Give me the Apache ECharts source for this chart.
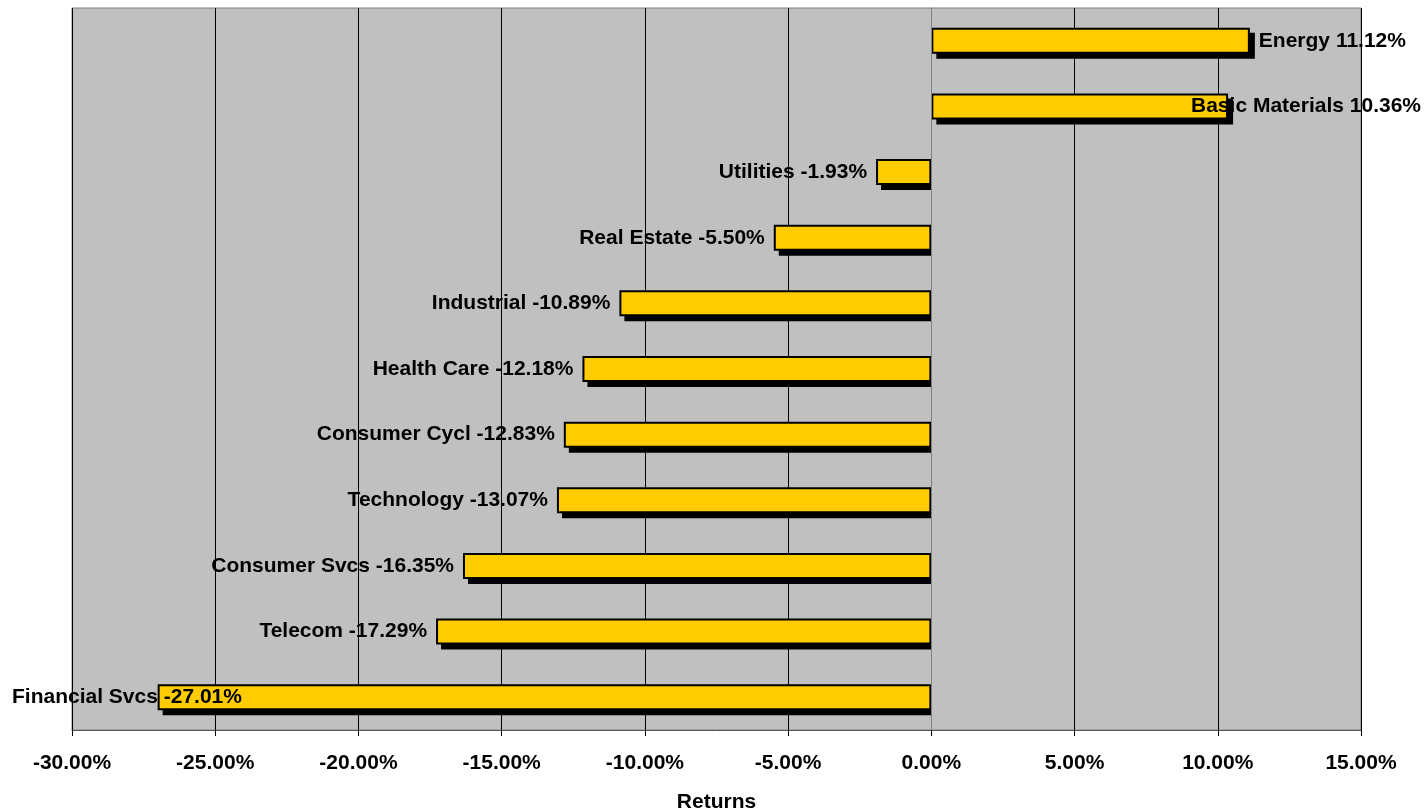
<!DOCTYPE html>
<html>
<head>
<meta charset="utf-8">
<script src="https://cdn.jsdelivr.net/npm/echarts@6/dist/echarts.min.js"></script>
<style>
  html, body { margin: 0; padding: 0; background: #ffffff; }
  #chart { width: 1427px; height: 810px; }
</style>
</head>
<body>
<div id="chart"></div>
<script>
// Sector returns, top to bottom
const sectors = ['Energy', 'Basic Materials', 'Utilities', 'Real Estate', 'Industrial',
  'Health Care', 'Consumer Cycl', 'Technology', 'Consumer Svcs', 'Telecom', 'Financial Svcs'];
const returns = [11.12, 10.36, -1.93, -5.50, -10.89, -12.18, -12.83, -13.07, -16.35, -17.29, -27.01];
const axisMin = -30, axisMax = 15, axisStep = 5;
const axisTitle = 'Returns';

const FONT = '"Liberation Sans", Arial, sans-serif';
const W = 1427;
const BAR_H = 26;
const SHADOW = 5;

const chart = echarts.init(document.getElementById('chart'), null, { renderer: 'canvas' });

// drop shadow behind each bar, offset down and to the right
function renderShadow(params, api) {
  const idx = api.value(0);
  const v = api.value(1);
  const p0 = api.coord([0, idx]);
  const p1 = api.coord([v, idx]);
  const left = Math.min(p0[0], p1[0]) + SHADOW;
  const right = Math.max(p0[0], p1[0]) + (v > 0 ? SHADOW : 0);
  return {
    type: 'rect',
    shape: { x: left, y: p0[1] - BAR_H / 2 + SHADOW, width: right - left, height: BAR_H },
    style: { fill: '#000' }
  };
}

chart.setOption({
  animation: false,
  grid: {
    left: 72, right: 66, top: 8, bottom: 80, outerBoundsMode: 'none',
    show: true, backgroundColor: '#C0C0C0', borderColor: '#808080', borderWidth: 1
  },
  xAxis: {
    type: 'value', min: axisMin, max: axisMax, interval: axisStep,
    name: axisTitle, nameLocation: 'middle', nameGap: 62,
    nameTextStyle: { fontFamily: FONT, fontSize: 21, fontWeight: 'bold', color: '#000' },
    axisLine: { show: true, onZero: false, lineStyle: { color: '#555', width: 1 } },
    axisTick: { show: true, inside: false, length: 6, lineStyle: { color: '#000' } },
    axisLabel: {
      margin: 23, fontFamily: FONT, fontSize: 21, fontWeight: 'bold', color: '#000',
      formatter: v => v.toFixed(2) + '%'
    },
    splitLine: { show: true, lineStyle: { color: '#000', width: 1 } }
  },
  yAxis: {
    type: 'category', data: sectors, inverse: true, z: 5,
    axisLine: { show: true, onZero: true, lineStyle: { color: '#808080', width: 1 } },
    axisTick: { show: false },
    axisLabel: { show: false },
    splitLine: { show: false }
  },
  series: [{
    type: 'custom',
    renderItem: renderShadow,
    data: returns.map((v, i) => [i, v]),
    encode: { x: 1, y: 0 },
    z: 1,
    silent: true
  }, {
    type: 'bar',
    z: 2,
    data: returns.map(v => ({
      value: v,
      label: { position: v >= 0 ? 'right' : 'left' }
    })),
    barWidth: BAR_H,
    itemStyle: { color: '#FFCC00', borderColor: '#000', borderWidth: 2 },
    label: {
      show: true, distance: 9,
      fontFamily: FONT, fontSize: 21, fontWeight: 'bold', color: '#000',
      formatter: p => p.name + ' ' + p.value.toFixed(2) + '%'
    },
    // keep labels inside the canvas
    labelLayout: p => {
      const r = p.labelRect;
      if (r.x < 12) return { dx: 12 - r.x };
      if (r.x + r.width > W - 6) return { dx: (W - 6) - (r.x + r.width) };
      return {};
    }
  }]
});
</script>
</body>
</html>
